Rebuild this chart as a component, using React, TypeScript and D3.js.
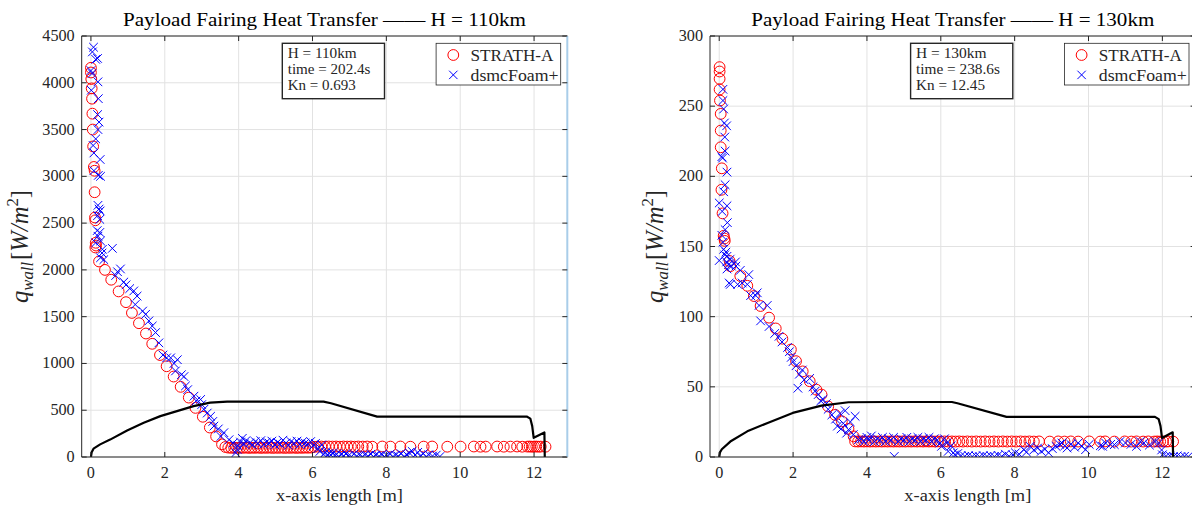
import React from "react";
import * as d3 from "d3";

type P = [number, number];

const xTicks = [0, 2, 4, 6, 8, 10, 12];
const yTicks110 = [0, 500, 1000, 1500, 2000, 2500, 3000, 3500, 4000, 4500];
const yTicks130 = [0, 50, 100, 150, 200, 250, 300];

const titles = ["Payload Fairing Heat Transfer —— H = 110km", "Payload Fairing Heat Transfer —— H = 130km"];
const notes110 = ["H = 110km", "time = 202.4s", "Kn = 0.693"];
const notes130 = ["H = 130km", "time = 238.6s", "Kn = 12.45"];
const legendNames = ["STRATH-A", "dsmcFoam+"];

// fairing outline (black line)
const fairing110: P[] = [
  [0, 0], [0.02, 50], [0.07, 89], [0.25, 135], [0.52, 186], [0.98, 283], [1.43, 366], [1.88, 437],
  [2.33, 490], [2.78, 544], [3.23, 581], [3.69, 591], [4.5, 592], [6.3, 592], [6.5, 575], [7.75, 432],
  [11.8, 432], [11.9, 410], [11.95, 330], [11.99, 205], [12.28, 263], [12.29, 0],
];
const fairing130: P[] = [
  [0, 0], [0.02, 3.3], [0.07, 5.5], [0.3, 11], [0.76, 18.3], [1.31, 24.3], [1.99, 31.4], [2.77, 36.6],
  [3.5, 39], [4.5, 39.2], [6.3, 39.2], [6.45, 38.3], [7.78, 28.6], [11.8, 28.6], [11.9, 27], [11.95, 22],
  [11.99, 13.6], [12.28, 17.6], [12.29, 0],
];

// STRATH-A, H = 110 km
const strath110: P[] = [
  [0.00, 4160], [0.00, 4110], [0.01, 4040], [0.02, 3940], [0.03, 3830], [0.04, 3670], [0.05, 3500], [0.06, 3320],
  [0.08, 3100], [0.10, 3060], [0.10, 2830], [0.11, 2560], [0.12, 2530], [0.13, 2290], [0.14, 2260], [0.12, 2240],
  [0.22, 2090], [0.38, 2000], [0.55, 1895], [0.75, 1770], [0.95, 1655], [1.11, 1540], [1.30, 1430], [1.49, 1320],
  [1.66, 1210], [1.87, 1090], [2.05, 970], [2.24, 860], [2.43, 750], [2.65, 635], [2.83, 525], [3.03, 430],
  [3.22, 315], [3.39, 220], [3.55, 135], [3.64, 107],
  [3.72, 100], [3.80, 98], [3.88, 100], [3.96, 97], [4.04, 99], [4.12, 98], [4.20, 100], [4.28, 97], [4.36, 99],
  [4.44, 98], [4.52, 100], [4.60, 97], [4.68, 99], [4.76, 98], [4.84, 100], [4.92, 97], [5.00, 99], [5.08, 98],
  [5.16, 100], [5.24, 97], [5.32, 99], [5.40, 98], [5.48, 100], [5.56, 97], [5.64, 99], [5.72, 98], [5.80, 100],
  [5.88, 99], [5.96, 101], [6.04, 108], [6.14, 110], [6.24, 112], [6.34, 110], [6.44, 112], [6.54, 111],
  [6.64, 112], [6.74, 110], [6.84, 112], [6.94, 111], [7.04, 112], [7.14, 110], [7.24, 112], [7.36, 111],
  [7.48, 112], [7.62, 110], [7.89, 112], [8.11, 111], [8.38, 112], [8.65, 110], [9.01, 111], [9.24, 112],
  [9.65, 110], [10.01, 111], [10.37, 112], [10.55, 110], [10.69, 111], [11.00, 112], [11.18, 110], [11.36, 111],
  [11.54, 112], [11.68, 110], [11.82, 111], [11.88, 112], [11.94, 110], [12.00, 111], [12.06, 112], [12.12, 110],
  [12.18, 111], [12.31, 110],
];

// dsmcFoam+, H = 110 km
const dsmc110: P[] = [
  [0.07, 4380], [0.04, 4330], [0.13, 4250], [0.18, 4260], [0.00, 4130], [0.03, 4100], [0.19, 4010], [0.01, 3920],
  [0.20, 3830], [0.18, 3660], [0.22, 3580], [0.19, 3500], [0.13, 3400], [0.06, 3330], [0.08, 3250], [0.25, 3180],
  [0.08, 3060], [0.26, 3000], [0.20, 3010], [0.19, 2690], [0.25, 2630], [0.18, 2580], [0.22, 2650], [0.24, 2540],
  [0.19, 2360], [0.26, 2310], [0.13, 2290], [0.31, 2220], [0.24, 2400], [0.17, 2420], [0.58, 2230], [0.26, 2130],
  [0.35, 2110], [0.30, 2180], [0.67, 1940], [0.80, 2010], [0.72, 1980], [0.89, 1870], [0.95, 1840], [1.05, 1800],
  [1.16, 1775], [1.25, 1720], [1.20, 1630], [1.40, 1560], [1.48, 1525], [1.57, 1455], [1.66, 1400], [1.75, 1330],
  [1.84, 1220], [1.95, 1090], [2.05, 1060], [2.16, 1060], [2.25, 1000], [2.34, 1040], [2.29, 920], [2.45, 880],
  [2.52, 860], [2.56, 760], [2.62, 720], [2.79, 650], [2.85, 600], [2.97, 615], [3.06, 510], [3.00, 560],
  [3.15, 470], [3.24, 435], [3.30, 380], [3.33, 330], [3.45, 300], [3.60, 260], [3.52, 220], [3.74, 185],
  [3.85, 150], [3.96, 80], [3.92, 45], [4.10, 200], [3.98, 120],
  [4.05, 160], [4.15, 140], [4.20, 175], [4.30, 150], [4.38, 130], [4.45, 165], [4.52, 145], [4.60, 175],
  [4.68, 135], [4.75, 160], [4.82, 150], [4.90, 170], [4.98, 130], [5.05, 155], [5.12, 140], [5.20, 180],
  [5.28, 150], [5.35, 125], [5.42, 165], [5.50, 145], [5.58, 170], [5.65, 135], [5.72, 160], [5.80, 150],
  [5.88, 140], [5.95, 165], [6.02, 120], [6.08, 145], [6.15, 90], [6.20, 60], [6.25, 130], [6.30, 30],
  [6.35, 50], [6.40, 15], [6.45, 40], [6.50, 20], [6.55, 45], [6.60, 10], [6.65, 30], [6.70, 5], [6.78, 25],
  [6.85, 10], [6.90, 35], [6.98, 15], [7.05, 5], [7.12, 30], [7.20, 10], [7.28, 20], [7.35, 5], [7.42, 25],
  [7.50, 10], [7.58, 30], [7.65, 5], [7.72, 20], [7.80, 8], [7.88, 25], [7.95, 5], [8.02, 15], [8.10, 30],
  [8.18, 5], [8.25, 20], [8.32, 10], [8.40, 35], [8.48, 5], [8.55, 25], [8.62, 45], [8.70, 60], [8.78, 20],
  [8.85, 50], [8.92, 10], [9.00, 35], [9.08, 5], [9.15, 25], [9.25, 10], [9.35, 20], [9.45, 5],
];

// STRATH-A, H = 130 km
const strath130: P[] = [
  [0.01, 277.8], [0.01, 274.7], [0.01, 269.5], [0.01, 261.9], [0.02, 254], [0.04, 244.5], [0.04, 232.6],
  [0.04, 220.7], [0.07, 205.7], [0.06, 190.4], [0.09, 173.6], [0.12, 157.6], [0.14, 155.7], [0.15, 154],
  [0.28, 139.7], [0.30, 136], [0.57, 129], [0.76, 122], [0.94, 114.7], [1.12, 107.6], [1.35, 99.3], [1.53, 91.6],
  [1.71, 84.3], [1.94, 76.6], [2.08, 68.3], [2.26, 61], [2.45, 54], [2.63, 48], [2.77, 44.5], [2.95, 36],
  [3.14, 30], [3.32, 25.4], [3.50, 20], [3.64, 14.7], [3.68, 11.1],
  [3.76, 11], [3.84, 11.1], [3.92, 11], [4.00, 11.1], [4.08, 11], [4.16, 11.1], [4.24, 11], [4.32, 11.1],
  [4.40, 11], [4.48, 11.1], [4.56, 11], [4.64, 11.1], [4.72, 11], [4.80, 11.1], [4.88, 11], [4.96, 11.1],
  [5.04, 11], [5.12, 11.1], [5.20, 11], [5.28, 11.1], [5.36, 11], [5.44, 11.1], [5.52, 11], [5.60, 11.1],
  [5.68, 11], [5.76, 11.1], [5.84, 11], [5.92, 11.1], [6.00, 11], [6.10, 11.1], [6.20, 11], [6.30, 11.1],
  [6.40, 11], [6.50, 11.1], [6.60, 11], [6.72, 11.1], [6.84, 11], [6.96, 11.1], [7.08, 11], [7.20, 11.1],
  [7.32, 11], [7.44, 11.1], [7.56, 11], [7.68, 11.1], [7.80, 11], [7.92, 11.1], [8.04, 11], [8.16, 11.1],
  [8.28, 11], [8.40, 11.1], [8.52, 11], [8.66, 11.1], [8.95, 11], [9.18, 11.1], [9.35, 11], [9.52, 11.1],
  [9.72, 11], [10.02, 11.1], [10.32, 11], [10.45, 11.1], [10.70, 11], [10.98, 11.1], [11.16, 11], [11.30, 11.1],
  [11.48, 11], [11.62, 11.1], [11.78, 11], [11.86, 11.1], [11.94, 11], [12.02, 11.1], [12.10, 11], [12.16, 11.1],
  [12.29, 11],
];

// dsmcFoam+, H = 130 km
const dsmc130: P[] = [
  [0.10, 262], [0.10, 254], [0.12, 248], [0.14, 238], [0.20, 236], [0.15, 228], [0.16, 218], [0.07, 214],
  [0.09, 213], [0.21, 203], [0.16, 194], [0.12, 189], [0.00, 181], [0.21, 179], [0.08, 175], [0.22, 167],
  [0.16, 162], [0.07, 158], [0.10, 153], [0.12, 148], [0.18, 146], [0.00, 140], [0.20, 139], [0.21, 143],
  [0.30, 141], [0.15, 144], [0.25, 137], [0.21, 134], [0.33, 136], [0.44, 139], [0.27, 124], [0.30, 123],
  [0.45, 136], [0.57, 133], [0.50, 123], [0.62, 124], [0.76, 123], [0.80, 130], [0.85, 115], [0.99, 115],
  [1.03, 117], [1.12, 97], [1.30, 108], [1.08, 108], [1.35, 93], [1.50, 88], [1.62, 86], [1.70, 82],
  [1.85, 78], [1.90, 75], [1.95, 71], [2.00, 68], [2.08, 65], [2.13, 49], [2.17, 59], [2.25, 62], [2.30, 55],
  [2.45, 56], [2.54, 50], [2.60, 47], [2.68, 44.5], [2.75, 40], [2.81, 41], [2.90, 38], [2.95, 34], [3.05, 30],
  [3.15, 27], [3.20, 22], [3.27, 31], [3.30, 20], [3.36, 24], [3.41, 33], [3.45, 17], [3.50, 19.5], [3.55, 25],
  [3.63, 16], [3.68, 29], [3.77, 12.4],
  [3.85, 13], [3.92, 11], [4.00, 14], [4.05, 12], [4.12, 15], [4.20, 11], [4.28, 13], [4.35, 12], [4.42, 14],
  [4.50, 11], [4.58, 13], [4.65, 12], [4.72, 14], [4.74, 0.4], [4.85, 11], [4.92, 13], [5.00, 12], [5.08, 14],
  [5.15, 11], [5.22, 13], [5.30, 12], [5.38, 14], [5.45, 11], [5.52, 13], [5.60, 12], [5.68, 14], [5.75, 11],
  [5.82, 13], [5.90, 12], [5.98, 10], [6.02, 7.6], [6.10, 13], [6.16, 10], [6.20, 4], [6.28, 8], [6.34, 3],
  [6.38, 1.6], [6.46, 2.5], [6.55, 1], [6.65, 0.5], [6.75, 1], [6.85, 0.3], [6.95, 0.8], [7.05, 0.2], [7.15, 1],
  [7.25, 0.4], [7.35, 0.9], [7.45, 0.3], [7.55, 1.2], [7.65, 0.5], [7.75, 2], [7.85, 0.6], [7.95, 1.5],
  [8.02, 3], [8.12, 2], [8.25, 5.2], [8.32, 3.5], [8.42, 7.6], [8.52, 5], [8.62, 6.4], [8.72, 4], [8.82, 5.5],
  [8.92, 3], [9.02, 6], [9.12, 7.6], [9.22, 9], [9.28, 10], [9.36, 8], [9.42, 6.4], [9.52, 9], [9.62, 7],
  [9.72, 10], [9.82, 7.6], [9.92, 5.2], [10.02, 9], [10.32, 8], [10.38, 7.6], [10.46, 10], [10.6, 9],
  [10.7, 8.8], [10.85, 11], [11.0, 10], [11.15, 9], [11.3, 7.6], [11.4, 11], [11.5, 10], [11.65, 8.5],
  [11.8, 11], [11.9, 10], [11.98, 5], [12.0, 1.6], [12.1, 0.5], [12.2, 1], [12.3, 0.3], [12.4, 0.8],
  [12.5, 0.2], [12.6, 0.5], [12.7, 0.3],
];

const FONT = "'Liberation Serif', 'Times New Roman', serif";
const AX = "#262626";
const TOP = 36;
const BOTTOM = 457;
const PW = 485.6;

type PanelProps = {
  left: number;
  ymax: number;
  yTicks: number[];
  title: string;
  notes: string[];
  noteW: number[];
  strath: P[];
  dsmc: P[];
  fairing: P[];
  ylabX: number;
  rightColor: string;
  id: string;
};

function Panel({ left, ymax, yTicks, title, notes, noteW, strath, dsmc, fairing, ylabX, rightColor, id }: PanelProps) {
  const right = left + PW;
  const x = d3.scaleLinear().domain([-0.25, 12.9]).range([left, right]);
  const y = d3.scaleLinear().domain([0, ymax]).range([BOTTOM, TOP]);
  const line = d3.line<P>().x((d) => x(d[0])).y((d) => y(d[1]));
  const tl = 5;
  const cx = (left + right) / 2;
  const legL = right - 6.6 - 124.6;
  const noteL = left + 200.6;
  const digitW = 8.1;
  return (
    <g>
      <defs>
        <clipPath id={id}>
          <rect x={left} y={TOP} width={PW} height={BOTTOM - TOP} />
        </clipPath>
      </defs>
      {xTicks.map((t) => (
        <line key={"gx" + t} x1={x(t)} x2={x(t)} y1={TOP} y2={BOTTOM} stroke="#e2e2e2" strokeWidth={1} />
      ))}
      {yTicks.map((t) => (
        <line key={"gy" + t} x1={left} x2={right} y1={y(t)} y2={y(t)} stroke="#e2e2e2" strokeWidth={1} />
      ))}
      <g clipPath={`url(#${id})`}>
        {strath.map((d, i) => (
          <circle key={"s" + i} cx={x(d[0])} cy={y(d[1])} r={5.4} fill="none" stroke="#ff0000" strokeWidth={1} />
        ))}
        {dsmc.map((d, i) => {
          const px = x(d[0]);
          const py = y(d[1]);
          const h = 4.3;
          return (
            <path
              key={"d" + i}
              d={`M${px - h},${py - h}L${px + h},${py + h}M${px - h},${py + h}L${px + h},${py - h}`}
              stroke="#0000ff"
              strokeWidth={1}
              fill="none"
            />
          );
        })}
        <path d={line(fairing) || ""} fill="none" stroke="#000" strokeWidth={2.2} strokeLinejoin="round" />
      </g>
      <line x1={left} x2={left} y1={TOP} y2={BOTTOM} stroke={AX} strokeWidth={1} />
      <line x1={left} x2={right} y1={BOTTOM} y2={BOTTOM} stroke={AX} strokeWidth={1} />
      <line x1={left} x2={right} y1={TOP} y2={TOP} stroke={AX} strokeWidth={1} />
      <line x1={right} x2={right} y1={TOP} y2={BOTTOM} stroke={rightColor} strokeWidth={2} />
      {xTicks.map((t) => (
        <g key={"tx" + t}>
          <line x1={x(t)} x2={x(t)} y1={BOTTOM} y2={BOTTOM - tl} stroke={AX} />
          <line x1={x(t)} x2={x(t)} y1={TOP} y2={TOP + tl} stroke={AX} />
          <text
            x={x(t)}
            y={478}
            textAnchor="middle"
            fontFamily={FONT}
            fontSize={16}
            fill={AX}
            textLength={String(t).length * digitW}
            lengthAdjust="spacingAndGlyphs"
          >
            {t}
          </text>
        </g>
      ))}
      {yTicks.map((t) => (
        <g key={"ty" + t}>
          <line x1={left} x2={left + tl} y1={y(t)} y2={y(t)} stroke={AX} />
          <line x1={right} x2={right - tl} y1={y(t)} y2={y(t)} stroke={AX} />
          <text
            x={left - 7}
            y={y(t) + 5}
            textAnchor="end"
            fontFamily={FONT}
            fontSize={16}
            fill={AX}
            textLength={String(t).length * digitW}
            lengthAdjust="spacingAndGlyphs"
          >
            {t}
          </text>
        </g>
      ))}
      <text x={cx} y={26} textAnchor="middle" fontFamily={FONT} fontSize={19} fill="#000" textLength={403} lengthAdjust="spacingAndGlyphs">
        {title}
      </text>
      <text x={cx + 15} y={501} textAnchor="middle" fontFamily={FONT} fontSize={16.5} fill={AX} textLength={127} lengthAdjust="spacingAndGlyphs">
        x-axis length [m]
      </text>
      <text
        transform={`translate(${ylabX},${(TOP + BOTTOM) / 2}) rotate(-90)`}
        textAnchor="middle"
        fontFamily={FONT}
        fontSize={25}
        fill={AX}
        fontStyle="italic"
        textLength={113}
        lengthAdjust="spacingAndGlyphs"
      >
        q
        <tspan fontSize={17} dy={5}>wall</tspan>
        <tspan dy={-5} fontStyle="normal" dx={2}>[</tspan>
        <tspan>W/m</tspan>
        <tspan fontSize={17} dy={-10} fontStyle="normal">2</tspan>
        <tspan dy={10} fontStyle="normal">]</tspan>
      </text>
      <rect x={noteL} y={43.3} width={102.2} height={55.4} fill="#fff" stroke={AX} strokeWidth={1.4} />
      {notes.map((n, i) => (
        <text
          key={"n" + i}
          x={noteL + 5.4}
          y={57.5 + i * 16.3}
          fontFamily={FONT}
          fontSize={14.5}
          fill={AX}
          textLength={noteW[i]}
          lengthAdjust="spacingAndGlyphs"
        >
          {n}
        </text>
      ))}
      <rect x={legL} y={43.3} width={124.6} height={41.7} fill="#fff" stroke={AX} strokeWidth={0.8} />
      <circle cx={legL + 17.2} cy={55} r={5.4} fill="none" stroke="#ff0000" strokeWidth={1} />
      <path
        d={`M${legL + 13},${70.7}L${legL + 21.4},${79.1}M${legL + 13},${79.1}L${legL + 21.4},${70.7}`}
        stroke="#0000ff"
        strokeWidth={1}
      />
      <text x={legL + 34.4} y={60.8} fontFamily={FONT} fontSize={16.5} fill={AX} textLength={83} lengthAdjust="spacingAndGlyphs">
        {legendNames[0]}
      </text>
      <text x={legL + 34.4} y={80.8} fontFamily={FONT} fontSize={16.5} fill={AX} textLength={88} lengthAdjust="spacingAndGlyphs">
        {legendNames[1]}
      </text>
    </g>
  );
}

export default function App() {
  return (
    <svg width={1192} height={506} style={{ position: "absolute", left: 0, top: 0, background: "#fff" }}>
      <rect x={0} y={0} width={1192} height={506} fill="#fff" />
      <Panel
        id="c110"
        left={81.7}
        ymax={4500}
        yTicks={yTicks110}
        title={titles[0]}
        notes={notes110}
        noteW={[69, 82.7, 68]}
        strath={strath110}
        dsmc={dsmc110}
        fairing={fairing110}
        ylabX={28}
        rightColor="#a9cde9"
      />
      <Panel
        id="c130"
        left={710}
        ymax={300}
        yTicks={yTicks130}
        title={titles[1]}
        notes={notes130}
        noteW={[70.6, 84, 69]}
        strath={strath130}
        dsmc={dsmc130}
        fairing={fairing130}
        ylabX={663}
        rightColor={AX}
      />
    </svg>
  );
}
